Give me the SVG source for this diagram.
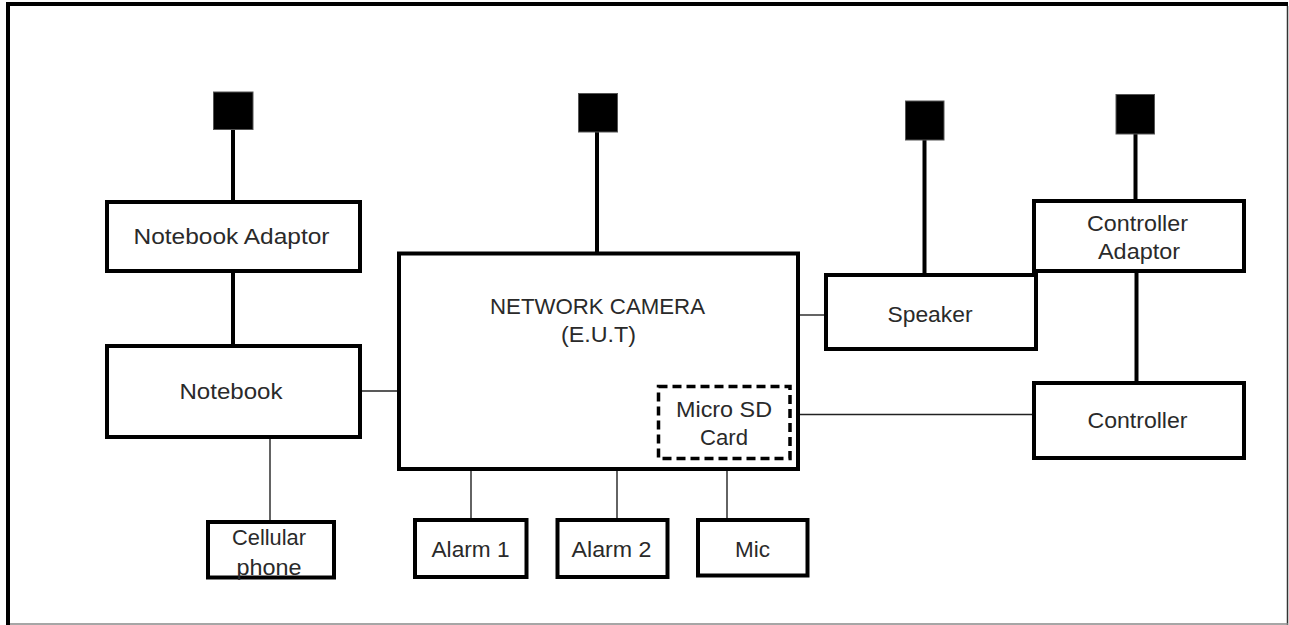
<svg xmlns="http://www.w3.org/2000/svg" width="1289" height="625" viewBox="0 0 1289 625">
<style>
.box{fill:#fff;stroke:#000;stroke-width:4}
.plug{fill:#000;stroke:#555;stroke-width:1}
.thick{stroke:#000;stroke-width:4;fill:none}
.thin{stroke:#222;stroke-width:1.4;fill:none}
.dash{fill:none;stroke:#000;stroke-width:3.5;stroke-dasharray:9 5}
text{font-family:"Liberation Sans",Arial,sans-serif;font-size:22px;fill:#2a2a2a;text-anchor:middle}
</style>
<rect width="1289" height="625" fill="#fff"/>
<g id="frame">
<line x1="6" y1="4" x2="1288" y2="4" stroke="#000" stroke-width="4"/>
<line x1="8" y1="2" x2="8" y2="625" stroke="#000" stroke-width="4"/>
<line x1="1287.5" y1="6" x2="1287.5" y2="625" stroke="#333" stroke-width="1.5"/>
<line x1="10" y1="624" x2="1288" y2="624" stroke="#888" stroke-width="1.5"/>
</g>
<g id="connectors">
<line class="thick" x1="233" y1="129" x2="233" y2="202"/>
<line class="thick" x1="233" y1="271" x2="233" y2="346"/>
<line class="thick" x1="597" y1="132" x2="597" y2="253"/>
<line class="thick" x1="924.5" y1="140" x2="924.5" y2="275"/>
<line class="thick" x1="1135.5" y1="134" x2="1135.5" y2="201"/>
<line class="thick" x1="1136.5" y1="271" x2="1136.5" y2="383"/>
<line class="thin" x1="361" y1="391" x2="398" y2="391"/>
<line class="thin" x1="270" y1="437" x2="270" y2="522"/>
<line class="thin" x1="471" y1="470" x2="471" y2="520" stroke="#555"/>
<line class="thin" x1="617" y1="470" x2="617" y2="520"/>
<line class="thin" x1="727" y1="470" x2="727" y2="520"/>
<line class="thin" x1="799" y1="315" x2="826" y2="315"/>
<line class="thin" x1="799" y1="414.5" x2="1034" y2="414.5"/>
</g>
<g id="plug-notebook-adaptor"><rect class="plug" x="213.5" y="92" width="39.5" height="37.5"/></g>
<g id="plug-camera"><rect class="plug" x="578.5" y="93.5" width="39" height="38.5"/></g>
<g id="plug-speaker"><rect class="plug" x="905.5" y="101" width="38.5" height="39"/></g>
<g id="plug-controller-adaptor"><rect class="plug" x="1116" y="94.5" width="38.5" height="39.5"/></g>
<g id="notebook-adaptor">
<rect class="box" x="107" y="202" width="253" height="69"/>
<text x="231.5" y="244" textLength="196" lengthAdjust="spacingAndGlyphs">Notebook Adaptor</text>
</g>
<g id="notebook">
<rect class="box" x="107" y="346" width="253" height="91"/>
<text x="231" y="399" textLength="103" lengthAdjust="spacingAndGlyphs">Notebook</text>
</g>
<g id="cellular-phone">
<rect class="box" x="208" y="522" width="126" height="55.5"/>
<text x="269" y="545" textLength="74" lengthAdjust="spacingAndGlyphs">Cellular</text>
<text x="269" y="575" textLength="65" lengthAdjust="spacingAndGlyphs">phone</text>
</g>
<g id="network-camera">
<rect class="box" x="399" y="253.5" width="399" height="215.5"/>
<text x="597.5" y="314" textLength="215" lengthAdjust="spacingAndGlyphs">NETWORK CAMERA</text>
<text x="598.5" y="342" textLength="75" lengthAdjust="spacingAndGlyphs">(E.U.T)</text>
</g>
<g id="micro-sd-card">
<rect class="dash" x="658.5" y="386.5" width="131.5" height="72"/>
<text x="724" y="416.5" textLength="96" lengthAdjust="spacingAndGlyphs">Micro SD</text>
<text x="724" y="445" textLength="48" lengthAdjust="spacingAndGlyphs">Card</text>
</g>
<g id="alarm-1">
<rect class="box" x="415" y="520" width="111.5" height="57"/>
<text x="470.5" y="556.5" textLength="78" lengthAdjust="spacingAndGlyphs">Alarm 1</text>
</g>
<g id="alarm-2">
<rect class="box" x="557.5" y="520" width="110" height="57"/>
<text x="611.5" y="556.5" textLength="80" lengthAdjust="spacingAndGlyphs">Alarm 2</text>
</g>
<g id="mic">
<rect class="box" x="698" y="520" width="109.5" height="55.5"/>
<text x="752.5" y="556.5" textLength="35" lengthAdjust="spacingAndGlyphs">Mic</text>
</g>
<g id="speaker">
<rect class="box" x="826" y="275" width="210" height="74"/>
<text x="930" y="321.5" textLength="85" lengthAdjust="spacingAndGlyphs">Speaker</text>
</g>
<g id="controller-adaptor">
<rect class="box" x="1034" y="201" width="210" height="70"/>
<text x="1137.5" y="230.5" textLength="101" lengthAdjust="spacingAndGlyphs">Controller</text>
<text x="1139" y="259" textLength="82" lengthAdjust="spacingAndGlyphs">Adaptor</text>
</g>
<g id="controller">
<rect class="box" x="1034" y="383" width="210" height="75"/>
<text x="1137.5" y="428" textLength="100" lengthAdjust="spacingAndGlyphs">Controller</text>
</g>
</svg>
